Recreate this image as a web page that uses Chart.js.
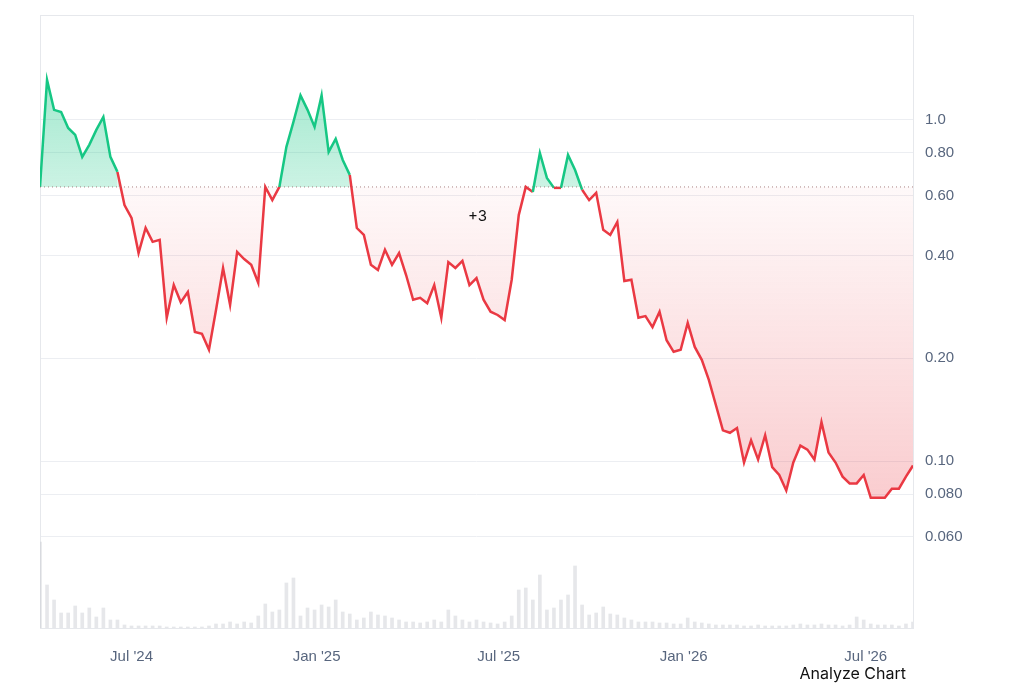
<!DOCTYPE html>
<html><head><meta charset="utf-8">
<script src="https://cdn.jsdelivr.net/npm/chart.js@4"></script>
<style>body{margin:0;background:#fff;font-family:Inter,"Open Sans",sans-serif;overflow:hidden}#w{position:relative;width:1024px;height:683px;overflow:hidden}
#c{position:absolute;left:0;top:-6px}
#an{position:absolute;right:118px;top:663px;font-size:16px;color:#111}</style>
</head><body><div id="w"><canvas id="c" width="1024" height="689"></canvas><div id="an">Analyze Chart</div></div>
<script>
const startDate = "2024-04-01";
const stepDays = 7;
const prices = [.636,1.31,1.07,1.055,.947,.904,.779,.845,.935,1.02,.779,.704,.563,.516,.407,.482,.439,.445,.263,.328,.292,.313,.239,.236,.212,.277,.368,.287,.41,.391,.376,.333,.636,.582,.636,.834,.987,1.18,1.07,.954,1.18,.806,.88,.763,.69,.482,.46,.376,.363,.416,.376,.407,.351,.297,.301,.29,.328,.263,.383,.368,.386,.328,.344,.297,.274,.268,.259,.34,.526,.636,.615,.80,.676,.632,.632,.789,.713,.624,.582,.611,.476,.46,.502,.337,.34,.263,.266,.247,.274,.226,.209,.212,.254,.216,.198,.173,.146,.123,.121,.125,.099,.115,.101,.119,.096,.091,.082,.099,.111,.108,.101,.13,.106,.099,.090,.086,.086,.091,.078,.078,.078,.083,.083,.090,.097];
const volumes = [86,43,28,15,15,22,15,20,11,20,8,8,3,2,2,2,2,2,1,1,1,1,1,1,2,4,4,6,4,6,5,12,24,16,18,45,50,12,20,18,23,21,28,16,14,8,10,16,13,12,10,8,6,6,5,6,8,6,18,12,8,6,8,6,5,4,6,12,38,40,28,53,18,20,28,33,62,23,13,15,21,14,13,10,8,6,6,6,5,5,4,4,10,6,5,4,3,3,3,3,2,2,3,2,2,2,2,3,4,3,3,4,3,3,2,3,11,8,4,3,3,3,2,4,6];
const baseline = 0.636;
const yTicks = [1.0,0.8,0.6,0.4,0.2,0.1,0.08,0.06];
const yTickLabels = ["1.0","0.80","0.60","0.40","0.20","0.10","0.080","0.060"];
const xTickDates = ["2024-07-01","2025-01-01","2025-07-01","2026-01-01","2026-07-01"];
const xTickLabels = ["Jul '24","Jan '25","Jul '25","Jan '26","Jul '26"];
const note = {text:"+3", day:435, value:0.52};

const d0 = new Date(startDate+"T00:00:00Z");
const dayOf = s => (new Date(s+"T00:00:00Z")-d0)/864e5;
const priceData = prices.map((v,i)=>({x:i*stepDays,y:v}));
const volData = volumes.map((v,i)=>({x:i*stepDays,y:v}));
const xMax = (prices.length-1)*stepDays;
const GREEN='#16c784', RED='#ea3943';

function grad(ctx, above){
  const ch=ctx.chart, a=ch.chartArea; if(!a) return null;
  const y=ch.scales.y, by=y.getPixelForValue(baseline);
  const g=ch.ctx.createLinearGradient(0,above?a.top:a.bottom,0,by);
  if(above){g.addColorStop(0,'rgba(22,199,132,0.5)');g.addColorStop(1,'rgba(22,199,132,0.22)');}
  else{g.addColorStop(0,'rgba(234,57,67,0.35)');g.addColorStop(1,'rgba(234,57,67,0.03)');}
  return g;
}
const extras={id:'extras',
 beforeDatasetsDraw(ch){const c=ch.ctx,a=ch.chartArea;c.save();c.strokeStyle='#e6e8ec';c.lineWidth=1;c.strokeRect(a.left+0.5,a.top+0.5,a.right-a.left,a.bottom-a.top);c.restore();},
 afterDatasetsDraw(ch){const c=ch.ctx,a=ch.chartArea,y=ch.scales.y.getPixelForValue(baseline);
  c.save();c.strokeStyle='rgba(150,100,100,0.8)';c.setLineDash([1,3]);c.lineWidth=1;c.beginPath();c.moveTo(a.left,y);c.lineTo(a.right,y);c.stroke();c.setLineDash([]);
  c.fillStyle='#111';c.font='15px Inter, sans-serif';c.textAlign='center';c.textBaseline='middle';
  c.fillText(note.text,ch.scales.x.getPixelForValue(note.day),ch.scales.y.getPixelForValue(note.value));c.restore();}};
new Chart(document.getElementById('c'),{
 data:{datasets:[
  {type:'line',data:priceData,yAxisID:'y',borderWidth:2.5,pointRadius:0,tension:0,
   fill:{target:{value:baseline},above:c=>grad(c,true),below:c=>grad(c,false)},
   segment:{borderColor:c=>((c.p0.parsed.y+c.p1.parsed.y)/2>=baseline?GREEN:RED)},borderColor:RED,order:1},
  {type:'bar',data:volData,yAxisID:'v',backgroundColor:'rgba(200,202,208,0.45)',barThickness:3,order:2}
 ]},
 options:{responsive:false,animation:false,layout:{padding:{left:40,top:3,right:0,bottom:0}},
  plugins:{legend:{display:false},tooltip:{enabled:false}},
  scales:{
   x:{type:'linear',offset:false,min:0,max:xMax,grid:{display:false,offset:false},border:{display:false},
     afterBuildTicks:s=>{s.ticks=xTickDates.map(dayOf).map(v=>({value:v}));},
     afterFit:s=>{s.height=55;},
     ticks:{color:'#58667e',font:{size:15},padding:12,maxRotation:0,autoSkip:false,callback:(v,i)=>xTickLabels[i]}},
   y:{type:'logarithmic',position:'right',min:0.0324,max:2.03,border:{display:false},
     grid:{color:'#eceef2',drawTicks:false},
     afterBuildTicks:s=>{s.ticks=yTicks.map(v=>({value:v}));},
     afterFit:s=>{s.width=111;},
     ticks:{color:'#58667e',font:{size:15},padding:12,autoSkip:false,callback:(v,i)=>yTickLabels[i]}},
   v:{display:false,min:0,max:613}
  }},
 plugins:[extras]});
</script></body></html>
